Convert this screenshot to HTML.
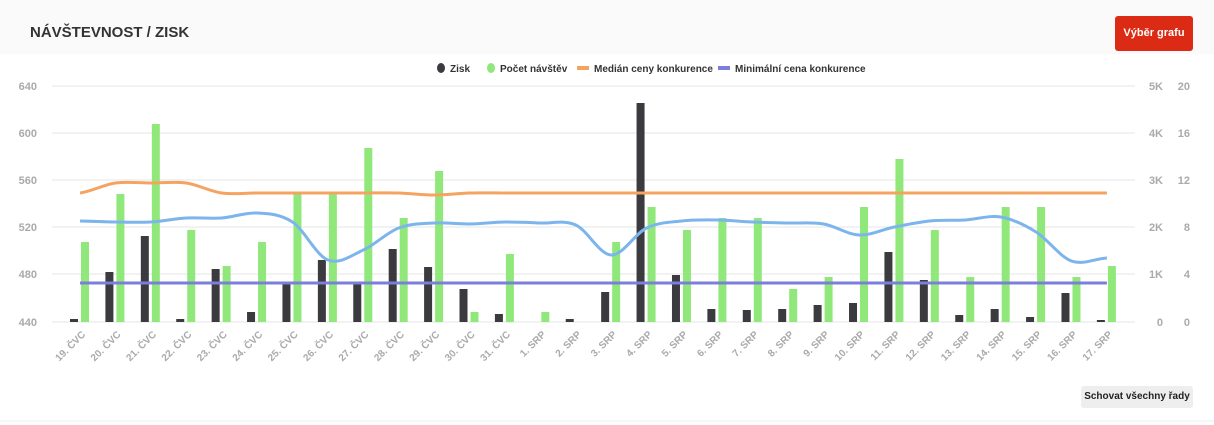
<!DOCTYPE html>
<html><head><meta charset="utf-8"><style>
body{margin:0;width:1214px;height:425px;background:#fff;font-family:"Liberation Sans",sans-serif;overflow:hidden;position:relative}
.hdr{position:absolute;left:0;top:0;width:1214px;height:54px;background:#fafafa}
.title{position:absolute;left:30px;top:24px;font-size:15px;font-weight:bold;color:#333}
.btn{position:absolute;left:1115px;top:16px;width:78px;height:35px;background:#dc2b14;border-radius:3px;color:#fff;font-size:11px;font-weight:bold;text-align:center;line-height:35px}
.btn2{position:absolute;left:1081px;top:386px;width:112px;height:22px;background:#eee;border-radius:3px;font-size:10px;font-weight:bold;color:#222;text-align:center;line-height:22px}
svg{position:absolute;left:0;top:0}
</style></head><body>
<div class="hdr"></div>
<div class="title">NÁVŠTEVNOST / ZISK</div>
<div class="btn">Výběr grafu</div>
<div class="btn2">Schovat všechny řady</div>
<svg id="s" width="1214" height="425" font-family="Liberation Sans, sans-serif"></svg>
<script>
const s=document.getElementById('s');let h='';
const labs=["19. ČVC","20. ČVC","21. ČVC","22. ČVC","23. ČVC","24. ČVC","25. ČVC","26. ČVC","27. ČVC","28. ČVC","29. ČVC","30. ČVC","31. ČVC","1. SRP","2. SRP","3. SRP","4. SRP","5. SRP","6. SRP","7. SRP","8. SRP","9. SRP","10. SRP","11. SRP","12. SRP","13. SRP","14. SRP","15. SRP","16. SRP","17. SRP"];
const dk=[319,272,236,319,269,312,283,260,284,249,267,289,314,null,319,292,103,275,309,310,309,305,303,252,280,315,309,317,293,320];
const gr=[242,194,124,230,266,242,194,194,148,218,171,312,254,312,null,242,207,230,218,218,289,277,207,159,230,277,207,207,277,266];
const bl=[221,222,222,218,218,213,222,260,250,228,223,224,222,223,225,255,228,221,220,222,223,224,235,227,221,220,217,232,261,258];
const or=[193,183,183,183,193,193,193,193,193,193,195,193,193,193,193,193,193,193,193,193,193,193,193,193,193,193,193,193,193,193];
const cx=i=>80+i*35.41;
const ly=[86,133,180,227,274,322],lv=[640,600,560,520,480,440],rv1=['5K','4K','3K','2K','1K','0'],rv2=['20','16','12','8','4','0'];
ly.forEach((y,k)=>{h+=`<line x1="52" x2="1135" y1="${y}" y2="${y}" stroke="#e6e6e6"/>`;
h+=`<text x="37" y="${y+4}" text-anchor="end" font-size="11" fill="#aaa" font-weight="bold">${lv[k]}</text>`;
h+=`<text x="1163" y="${y+4}" text-anchor="end" font-size="11" fill="#aaa" font-weight="bold">${rv1[k]}</text>`;
h+=`<text x="1190" y="${y+4}" text-anchor="end" font-size="11" fill="#aaa" font-weight="bold">${rv2[k]}</text>`;});
labs.forEach((l,i)=>{const x=cx(i);
if(dk[i]!=null)h+=`<rect x="${x-10}" y="${dk[i]}" width="8" height="${322-dk[i]}" fill="#3a3a3f"/>`;
if(gr[i]!=null)h+=`<rect x="${x+1}" y="${gr[i]}" width="8" height="${322-gr[i]}" fill="#90e87a"/>`;
h+=`<text transform="translate(${x+6},335) rotate(-45)" text-anchor="end" font-size="10" fill="#aaa" font-weight="bold">${l}</text>`;});
function sm(a){let d=`M${cx(0)},${a[0]}`;for(let i=0;i<a.length-1;i++){const p0=a[Math.max(i-1,0)],p1=a[i],p2=a[i+1],p3=a[Math.min(i+2,a.length-1)];const x1=cx(i),x2=cx(i+1),dx=(x2-x1)/3;
d+=` C${x1+dx},${p1+(p2-p0)/6} ${x2-dx},${p2-(p3-p1)/6} ${x2},${p2}`;}return d;}
h+=`<path d="${sm(bl)}" fill="none" stroke="#7cb5ec" stroke-width="3"/>`;
h+=`<path d="${sm(or)}" fill="none" stroke="#f4a460" stroke-width="3"/>`;
h+=`<line x1="${cx(0)}" x2="${cx(29)}" y1="283" y2="283" stroke="#7b7fdb" stroke-width="3"/>`;
h+=`<ellipse cx="441" cy="68" rx="4" ry="5" fill="#3a3a3f"/><text x="450" y="72" font-size="10" font-weight="bold" fill="#333">Zisk</text>`;
h+=`<ellipse cx="491" cy="68" rx="4" ry="5" fill="#90e87a"/><text x="500" y="72" font-size="10" font-weight="bold" fill="#333">Počet návštěv</text>`;
h+=`<rect x="577" y="66" width="12" height="4" fill="#f4a460"/><text x="594" y="72" font-size="10" font-weight="bold" fill="#333">Medián ceny konkurence</text>`;
h+=`<rect x="718" y="66" width="12" height="4" fill="#7b7fdb"/><text x="735" y="72" font-size="10" font-weight="bold" fill="#333">Minimální cena konkurence</text>`;
h+=`<line x1="0" x2="1214" y1="421" y2="421" stroke="#eee"/>`;
s.innerHTML=h;
</script>
</body></html>
